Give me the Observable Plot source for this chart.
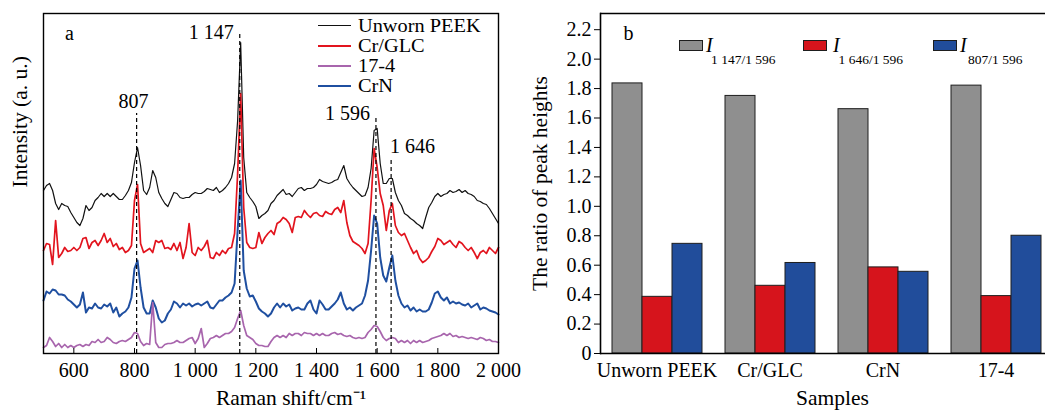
<!DOCTYPE html>
<html>
<head>
<meta charset="utf-8">
<script src="https://cdn.jsdelivr.net/npm/d3@7"></script>
<script src="https://cdn.jsdelivr.net/npm/@observablehq/plot@0.6"></script>
<style>
html, body { margin:0; padding:0; background:#fff; overflow:hidden; }
body { width:1045px; height:410px; position:relative; font-family:"Liberation Serif","Times New Roman",serif; color:#000; }
#panelA { position:absolute; left:0; top:0; width:520px; height:410px; }
#panelB { position:absolute; left:520px; top:0; width:540px; height:410px; }
.lg { position:absolute; white-space:nowrap; line-height:1; }
</style>
</head>
<body>
<div id="panelA"></div>
<div id="panelB"></div>
<div id="legendA"></div>
<div id="legendB"></div>
<script>
// ---------- Panel a: Raman spectra (offset intensities, a.u.) ----------
const ramanShift = d3.range(500, 2001, 10);
const unwornPEEK = [
  162,167,169,162,149,143,149,147,146,140,
  135,130,127,134,147,142,145,152,155,159,
  156,159,156,159,156,153,153,157,162,170,
  190,205,187,162,158,165,182,175,160,154,
  149,146,153,160,159,155,154,155,155,158,
  160,159,159,161,164,163,162,165,160,162,
  165,169,175,189,232,310,195,160,155,151,
  146,134,137,139,142,149,152,157,160,163,
  158,159,156,160,164,165,162,164,164,165,
  168,173,171,170,169,170,172,173,180,187,
  174,169,165,162,159,156,157,165,184,222,
  224,189,169,169,174,174,160,152,147,139,
  137,134,132,129,127,124,135,145,150,156,
  159,156,158,159,162,160,161,163,160,162,
  159,158,156,152,151,149,148,144,139,134,
  129];
const crGLC = [
  102,109,108,88,132,95,99,105,101,102,
  105,102,105,114,115,104,110,112,107,112,
  119,110,114,106,109,103,105,100,102,107,
  152,168,109,100,102,104,100,112,110,112,
  104,105,103,109,102,110,94,105,129,100,
  97,105,102,106,112,95,94,100,97,102,
  99,104,105,119,179,259,145,110,105,104,
  105,120,109,115,119,122,118,129,131,135,
  133,129,120,135,136,135,142,138,135,139,
  140,137,136,141,139,138,143,145,140,152,
  130,117,111,109,107,104,99,109,152,204,
  185,159,147,122,142,149,127,120,117,119,
  112,105,99,102,94,90,92,95,101,106,
  114,112,108,110,112,108,105,111,109,105,
  102,105,100,94,100,102,99,105,102,99,
  105];
const ss174 = [
  5,7,15,11,6,9,5,8,5,7,
  5,7,8,6,8,7,11,10,13,10,
  11,15,13,10,9,11,12,11,13,15,
  20,19,11,7,9,8,50,10,5,5,
  8,9,9,10,12,10,10,12,14,15,
  9,14,24,5,9,14,15,17,15,17,
  19,19,21,25,34,42,27,17,15,13,
  9,7,7,6,6,11,15,17,15,17,
  15,19,17,19,19,17,20,19,19,17,
  19,17,19,17,17,19,20,18,19,17,
  16,17,15,14,15,14,15,20,23,27,
  26,21,15,12,14,15,14,10,12,10,
  12,9,12,10,12,10,11,12,14,15,
  16,17,19,17,19,16,17,15,16,15,
  14,15,14,13,15,14,12,13,11,11,
  10];
const crN = [
  52,61,59,63,62,58,58,57,53,51,
  48,45,48,60,40,45,44,49,45,44,
  48,46,49,40,45,36,39,41,45,55,
  84,92,65,45,39,39,52,45,34,30,
  32,39,43,51,49,45,49,47,49,46,
  48,49,47,49,51,45,44,48,52,52,
  55,57,60,69,122,172,82,64,56,57,
  51,44,41,39,36,39,45,49,45,49,
  46,48,42,44,45,43,43,49,52,43,
  39,52,48,43,43,46,49,53,60,49,
  43,45,42,45,47,49,57,72,102,137,
  129,95,77,71,85,97,72,57,49,45,
  47,42,45,41,43,41,41,43,50,59,
  61,55,52,55,49,51,49,50,48,47,
  49,45,47,49,43,45,44,42,41,40,
  38];
const seriesNames = ["Unworn PEEK", "Cr/GLC", "17-4", "CrN"];
const seriesValues = [unwornPEEK, crGLC, ss174, crN];
const shiftTicks = [600, 800, 1000, 1200, 1400, 1600, 1800, 2000];
const peakShift = [807, 1147, 1596, 1646];
const peakText = ["807", "1 147", "1 596", "1 646"];
const peakTop = [239, 319, 237, 194];
const peakLabelY = [251, 320, 239, 206];

// ---------- Panel b: ratio of peak heights ----------
const samples = ["Unworn PEEK", "Cr/GLC", "CrN", "17-4"];
const ratioKeys = ["I1147/1596", "I1646/1596", "I807/1596"];
const ratioSubs = ["1 147/1 596", "1 646/1 596", "807/1 596"];
const r1147 = [1.835, 1.75, 1.66, 1.82];
const r1646 = [0.385, 0.46, 0.585, 0.39];
const r807 = [0.745, 0.615, 0.555, 0.80];
const ratioTicks = [0, 0.2, 0.4, 0.6, 0.8, 1.0, 1.2, 1.4, 1.6, 1.8, 2.0, 2.2];

// ---------- styles ----------
const lineColors = ["#111111", "#e2141e", "#a865ad", "#1f4fa0"];
const lineWidths = [1.2, 1.7, 1.7, 2];
const barColors = ["#8f8f8f", "#d6141c", "#214d9b"];
const serif = "'Liberation Serif', 'Times New Roman', serif";
const peakStyle = [
  {textAnchor: "middle", dx: -3},
  {textAnchor: "end", dx: -6},
  {textAnchor: "end", dx: -6},
  {textAnchor: "start", dx: -1}
];

const fmtShift = d => d >= 1000 ? `${Math.floor(d / 1000)} ${String(d % 1000).padStart(3, "0")}` : String(d);

const spectra = seriesNames.map((name, k) =>
  ramanShift.map((s, i) => ({name, shift: s, v: seriesValues[k][i]})));
const peaks = peakShift.map((s, i) => ({shift: s, top: peakTop[i], ly: peakLabelY[i], text: peakText[i]}));
const drawOrder = [0, 1, 3, 2];

const plotA = Plot.plot({
  width: 520, height: 410,
  marginLeft: 43, marginRight: 22, marginTop: 13, marginBottom: 57,
  style: {fontFamily: serif, fontSize: "20px", maxWidth: "none", background: "transparent", overflow: "visible"},
  x: {domain: [500, 2000]},
  y: {domain: [-1, 339], axis: null},
  marks: [
    ...drawOrder.map(k => Plot.line(spectra[k], {x: "shift", y: "v", stroke: lineColors[k], strokeWidth: lineWidths[k], strokeLinejoin: "round"})),
    Plot.ruleX(peaks, {x: "shift", y1: -1, y2: "top", stroke: "#000", strokeWidth: 1.2, strokeDasharray: "4,3"}),
    ...peaks.map((p, i) => Plot.text([p], {x: "shift", y: "ly", text: "text", lineAnchor: "middle", fontSize: 20, ...peakStyle[i]})),
    Plot.frame({stroke: "#000", strokeWidth: 1.4}),
    Plot.axisX({ticks: shiftTicks, tickSize: -5, tickPadding: 14.4, tickFormat: fmtShift, label: null, fontSize: 20}),
    Plot.text(["Raman shift/cm\u207B\u00B9"], {frameAnchor: "bottom", lineAnchor: "middle", dx: 20, dy: 45, fontSize: 21.5}),
    Plot.text(["Intensity (a. u.)"], {frameAnchor: "left", rotate: -90, lineAnchor: "middle", dx: -23, dy: 4, fontSize: 21.5}),
    Plot.text(["a"], {frameAnchor: "top-left", textAnchor: "middle", lineAnchor: "middle", dx: 26, dy: 20, fontSize: 20})
  ]
});
document.getElementById("panelA").append(plotA);

const rows = [];
const ratioValues = [r1147, r1646, r807];
samples.forEach((s, i) => ratioKeys.forEach((k, j) => rows.push({sample: s, ratio: k, value: ratioValues[j][i]})));

const plotB = Plot.plot({
  width: 540, height: 410,
  marginLeft: 78, marginRight: 7, marginTop: 13, marginBottom: 57,
  style: {fontFamily: serif, fontSize: "20px", maxWidth: "none", background: "transparent", overflow: "visible"},
  fx: {domain: samples, paddingInner: 0, paddingOuter: 0, axis: null, label: null},
  x: {domain: ratioKeys, paddingInner: 0, paddingOuter: 0.38, axis: null},
  y: {domain: [0, 2.31], axis: null},
  color: {domain: ratioKeys, range: barColors},
  marks: [
    Plot.barY(rows, {fx: "sample", x: "ratio", y: "value", fill: "ratio", stroke: "#1e1e1e", strokeWidth: 1}),
    Plot.ruleY([0], {stroke: "#000", strokeWidth: 1.6}),
    Plot.ruleY([2.31], {stroke: "#000", strokeWidth: 1.6}),
    Plot.frame({anchor: "left", facetAnchor: "left", stroke: "#000", strokeWidth: 1.6}),
    Plot.axisY({ticks: ratioTicks, tickSize: 6, tickPadding: 3, tickFormat: d => d === 0 ? "0" : d.toFixed(1), label: null, fontSize: 20}),
    Plot.axisFx({anchor: "bottom", tickSize: 0, tickPadding: 9.4, label: null, fontSize: 20}),
    Plot.text([{s: samples[1], t: "Samples"}], {fx: "s", text: "t", frameAnchor: "bottom-right", textAnchor: "middle", lineAnchor: "middle", dx: 6, dy: 45, fontSize: 21.5}),
    Plot.text([{s: samples[0], t: "The ratio of peak heights"}], {fx: "s", text: "t", frameAnchor: "left", rotate: -90, textAnchor: "middle", lineAnchor: "middle", dx: -60, fontSize: 21.5}),
    Plot.text([{s: samples[0], t: "b"}], {fx: "s", text: "t", frameAnchor: "top-left", textAnchor: "middle", lineAnchor: "middle", dx: 28, dy: 20, fontSize: 20})
  ]
});
document.getElementById("panelB").append(plotB);

// ---------- legends (inside the panels) ----------
const legA = document.getElementById("legendA");
seriesNames.forEach((name, k) => {
  const cy = 26 + k * 20;
  const ln = document.createElement("div");
  ln.style.cssText = `position:absolute;left:318px;top:${cy - 1}px;width:33px;height:0;border-top:${k === 0 ? 1.5 : 2}px solid ${lineColors[k]};`;
  legA.append(ln);
  const tx = document.createElement("div");
  tx.className = "lg";
  tx.style.cssText += `left:358px;top:${cy - 9.2}px;font-size:18px;line-height:18px;height:18px;transform:scaleX(1.13);transform-origin:0 50%;`;
  tx.textContent = name;
  legA.append(tx);
});

const legB = document.getElementById("legendB");
const swatchX = [678.5, 802.5, 932.5];
const iX = [706, 833, 960];
const subX = [711, 838.5, 968];
ratioKeys.forEach((k, j) => {
  const sw = document.createElement("div");
  sw.style.cssText = `position:absolute;left:${swatchX[j]}px;top:39.5px;width:24px;height:11px;box-sizing:border-box;border:1px solid #1e1e1e;background:${barColors[j]};`;
  legB.append(sw);
  const it = document.createElement("div");
  it.className = "lg";
  it.style.cssText += `left:${iX[j]}px;top:35.4px;font-size:20px;font-style:italic;`;
  it.textContent = "I";
  legB.append(it);
  const sb = document.createElement("div");
  sb.className = "lg";
  sb.style.cssText += `left:${subX[j]}px;top:52.6px;font-size:13.5px;`;
  sb.textContent = ratioSubs[j];
  legB.append(sb);
});
</script>
</body>
</html>
